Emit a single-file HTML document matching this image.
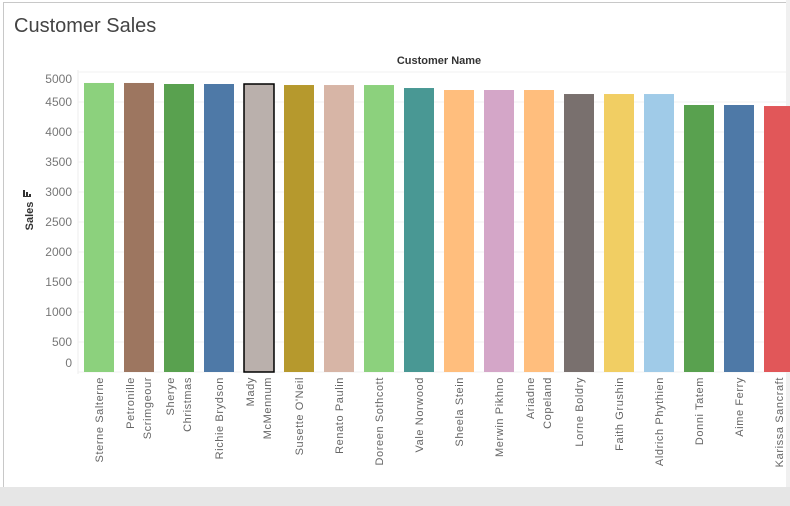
<!DOCTYPE html>
<html><head><meta charset="utf-8"><style>
body{margin:0;width:790px;height:506px;overflow:hidden;background:#fff;font-family:"Liberation Sans",sans-serif;}
#frame{position:absolute;left:3px;top:2px;width:783px;height:484px;border:1px solid #c8c8c8;border-right:none;background:#fff;}
#bottom{position:absolute;left:0;top:487px;width:790px;height:19px;background:#e6e6e6;}
#scroll{position:absolute;left:786px;top:0;width:4px;height:487px;background:#f0f0f0;}
#title{position:absolute;left:14px;top:15px;font-size:20px;color:#444;font-weight:normal;}
</style></head><body>
<div id="frame"></div>
<div id="bottom"></div>
<div id="scroll"></div>
<div id="title">Customer Sales</div>
<svg id="chart" width="790" height="506" style="position:absolute;left:0;top:0"></svg>
<script>
const categories=["Sterne Salterne","Petronille|Scrimgeour","Sherye|Christmas","Richie Brydson","Mady|McMennum","Susette O'Neil","Renato Paulin","Doreen Sothcott","Vale Norwood","Sheela Stein","Merwin Pikhno","Ariadne|Copeland","Lorne Boldry","Faith Grushin","Aldrich Phythien","Donni Tatem","Aime Ferry","Karissa Sancraft"];
const sales=[4817,4817,4800,4800,4800,4783,4783,4783,4733,4700,4700,4700,4633,4633,4633,4450,4450,4433];
const colors=["#8cd17d","#9d7660","#59a14f","#4e79a7","#bab0ac","#b6992d","#d7b5a6","#8cd17d","#499894","#ffbe7d","#d4a6c8","#ffbe7d","#79706e","#f1ce63","#a0cbe8","#59a14f","#4e79a7","#e15759"];
const ticks=[0,500,1000,1500,2000,2500,3000,3500,4000,4500,5000];
const NS="http://www.w3.org/2000/svg";
const svg=document.getElementById('chart');
const y0=372,scale=0.06;
function y(v){return y0-v*scale;}
function x(i){return 84+40*i;}
function mk(t,a){const e=document.createElementNS(NS,t);for(const k in a)e.setAttribute(k,a[k]);svg.appendChild(e);return e;}
ticks.forEach(t=>{
  const g=mk('line',{x1:78,x2:786,y1:y(t),y2:y(t),stroke:'#f0f0f0','stroke-width':1});
  
  
  const ly=t===0?367:(t===5000?83:y(t)+4);
  const l=mk('text',{x:72,y:ly,'text-anchor':'end','font-size':12,fill:'#777'});
  l.textContent=t;
  
  
});
const ax=mk('line',{x1:78,x2:78,y1:70,y2:374,stroke:'#eee'});


const xt=mk('text',{x:439,y:64,'text-anchor':'middle','font-size':11,'font-weight':'bold',fill:'#333'});
xt.textContent='Customer Name';


const yt=mk('text',{x:0,y:0,'text-anchor':'middle','font-size':11,'font-weight':'bold',fill:'#333',transform:'translate(33,216) rotate(-90)'});
yt.textContent='Sales';


const ic=mk('g',{});


[[23,190,2,6],[26,192,2,4],[29,194,2,2],[23,196,8,1]].forEach(r=>{const e=document.createElementNS(NS,'rect');e.setAttribute('x',r[0]);e.setAttribute('y',r[1]);e.setAttribute('width',r[2]);e.setAttribute('height',r[3]);e.setAttribute('fill','#333');ic.appendChild(e);});
categories.forEach((c,i)=>{
  const b=mk('rect',{x:x(i),y:y(sales[i]),width:30,height:y(0)-y(sales[i]),fill:colors[i]});
  if(i===4){b.setAttribute('stroke','#000');b.setAttribute('stroke-width',1.5);}
  
  
  const parts=c.split('|');
  const cx=x(i)+15;
  const t=mk('text',{'font-size':11,fill:'#666','text-anchor':'end','letter-spacing':'0.6',transform:'translate('+cx+',377) rotate(-90)'});
  
  
  parts.forEach((p,j)=>{const s=document.createElementNS(NS,'tspan');s.setAttribute('x',0);s.setAttribute('y',parts.length===1?4:(j===0?-5:12));s.textContent=p;t.appendChild(s);});
});
</script>
</body></html>
